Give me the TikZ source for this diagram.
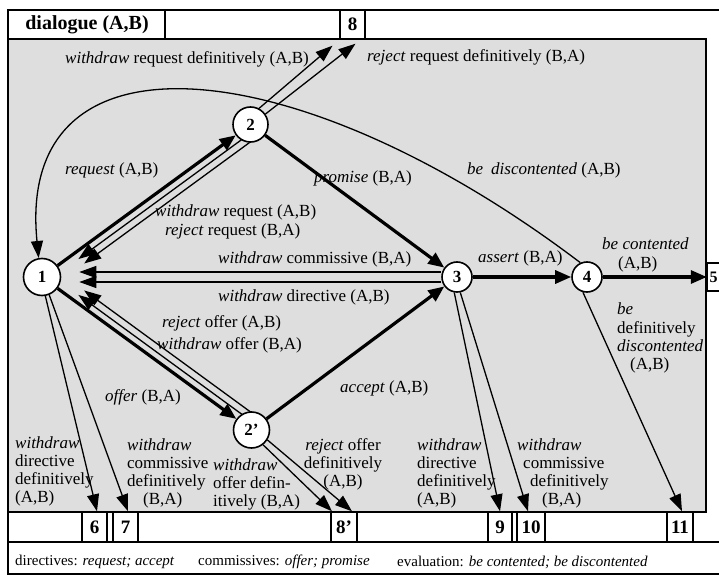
\documentclass[tikz,border=0pt]{standalone}
\usepackage{fontspec}
\setmainfont{Liberation Serif}
\usetikzlibrary{arrows.meta,calc}
\pgfdeclarelayer{back}
\pgfdeclarelayer{edges}
\pgfsetlayers{back,edges,main}
\begin{document}
\begin{tikzpicture}[x=1pt,y=-1pt,
  stnode/.style={circle,draw,line width=1.6pt,fill=white,inner sep=0pt,font=\fontsize{17}{17}\selectfont\bfseries},
  numbox/.style={draw,line width=1.4pt,fill=white,inner sep=0pt,minimum height=30pt,font=\fontsize{19}{19}\selectfont\bfseries},
  heavy/.style={line width=3.2pt,-{Triangle[length=16pt,width=13pt]}},
  light/.style={line width=1.3pt,-{Triangle[length=17pt,width=12pt]}},
  lbl/.style={inner sep=0pt,font=\fontsize{17}{18.3}\selectfont},
  legend/.style={inner sep=0pt,anchor=west,font=\fontsize{15}{15}\selectfont},
  frame/.style={line width=1.8pt}
]
\useasboundingbox (0,0) rectangle (719,577);
\clip (0,0) rectangle (719,577);

% ---------- frame ----------
\begin{pgfonlayer}{back}
\fill[black!13] (8,39) rectangle (706,512);
\draw[line width=1.5pt] (8,39) rectangle (706,512);
\draw[frame] (730,10) -- (8,10) -- (8,574) -- (730,574);
\draw[line width=1.5pt] (8,542) -- (730,542);
\draw[line width=1.5pt] (8,10) rectangle (165,39);
\end{pgfonlayer}
\node[font=\fontsize{20}{20}\selectfont\bfseries,inner sep=0pt] (title) at (87,25) {dialogue (A,B)};

% ---------- boxes ----------
\node[numbox,minimum width=25pt,minimum height=29pt] (b8) at (352.5,24.5) {8};
\node[numbox,minimum width=12pt,minimum height=28pt,font=\fontsize{16}{16}\selectfont\bfseries] (b5) at (713.5,277) {5};
\node[numbox,minimum width=25pt] (b6) at (94.5,527) {6};
\node[numbox,minimum width=25pt] (b7) at (125.5,527) {7};
\node[numbox,minimum width=26pt] (b8p) at (344,527) {8'};
\node[numbox,minimum width=24pt] (b9) at (500,527) {9};
\node[numbox,minimum width=28pt] (b10) at (531,527) {10};
\node[numbox,minimum width=26pt] (b11) at (680,527) {11};

% ---------- states ----------
\node[stnode,minimum size=37pt] (n1) at (42,277) {1};
\node[stnode,minimum size=35pt] (n2) at (250.5,124.5) {2};
\node[stnode,minimum size=36pt] (n2p) at (251.5,430) {2'};
\node[stnode,minimum size=30pt] (n3) at (457,277) {3};
\node[stnode,minimum size=30pt] (n4) at (587,277) {4};

% ---------- edges ----------
\begin{pgfonlayer}{edges}
\draw[heavy] (n1) -- (n2);
\draw[heavy] (n2) -- (n3);
\draw[heavy] (n1) -- (n2p);
\draw[heavy] (n2p) -- (n3);
\draw[heavy] (n3) -- (n4);
\draw[heavy] (n4) -- (b5);

\path ($(n2.center)!7pt!90:(n1.center)$) coordinate (p1)
      ($(n1.center)!7pt!-90:(n2.center)$) coordinate (q1)
      ($(n2.center)!14pt!90:(n1.center)$) coordinate (p2)
      ($(n1.center)!14pt!-90:(n2.center)$) coordinate (q2)
      ($(n2p.center)!7pt!-90:(n1.center)$) coordinate (p3)
      ($(n1.center)!7pt!90:(n2p.center)$) coordinate (q3)
      ($(n2p.center)!14pt!-90:(n1.center)$) coordinate (p4)
      ($(n1.center)!14pt!90:(n2p.center)$) coordinate (q4);
\draw[light] ($(p1)!16pt!(q1)$) -- ($(q1)!40pt!(p1)$);
\draw[light] ($(p2)!11pt!(q2)$) -- ($(q2)!42pt!(p2)$);
\draw[light] ($(p3)!16pt!(q3)$) -- ($(q3)!40pt!(p3)$);
\draw[light] ($(p4)!11pt!(q4)$) -- ($(q4)!42pt!(p4)$);

\draw[light] ([yshift=5pt]n3.west) -- ([yshift=5pt,xshift=18pt]n1.east);
\draw[light] ([yshift=-5pt]n3.west) -- ([yshift=-5pt,xshift=18pt]n1.east);

\draw[light] (n2.62) -- ([xshift=-20pt,yshift=-6pt]b8.south);
\draw[light] (n2.35) -- ([xshift=3pt,yshift=-4pt]b8.south);

\draw[light] (n2p.-52) -- ([xshift=-12pt]b8p.north);
\draw[light] (n2p.-32) -- ([xshift=8pt]b8p.north);

\draw[light] (n1.-80) -- ([xshift=2.5pt]b6.north);
\draw[light] (n1.-68) -- ([xshift=2.5pt]b7.north);

\draw[light] (n3.-100) -- (b9.north);
\draw[light] (n3.-78) -- ([xshift=-3pt]b10.north);
\draw[light] (n4.-105) -- ([xshift=2pt]b11.north);

\draw[light] (n4.115) .. controls (300,50) and (15,20) .. (n1.100);
\end{pgfonlayer}

% ---------- labels ----------
\node[lbl,anchor=west] (l1) at (65,59) {\textit{withdraw} request definitively (A,B)};
\node[lbl,anchor=west] (l2) at (367,57) {\textit{reject} request definitively (B,A)};
\node[lbl,anchor=west] (l3) at (65,170) {\textit{request} (A,B)};
\node[lbl,anchor=west] (l4) at (314,178) {\textit{promise} (B,A)};
\node[lbl,anchor=west] (l5) at (467,170) {\textit{be\hspace{8pt}discontented} (A,B)};
\node[lbl,anchor=west] (l6) at (155,212) {\textit{withdraw} request (A,B)};
\node[lbl,anchor=west] (l7) at (165,231) {\textit{reject} request (B,A)};
\node[lbl,anchor=west] (l8) at (218,259) {\textit{withdraw} commissive (B,A)};
\node[lbl,anchor=west] (l9) at (218,297) {\textit{withdraw} directive (A,B)};
\node[lbl,anchor=west] (l10) at (162,323) {\textit{reject} offer (A,B)};
\node[lbl,anchor=west] (l11) at (157,345) {\textit{withdraw} offer (B,A)};
\node[lbl,anchor=west] (l12) at (478,258) {\textit{assert} (B,A)};
\node[lbl,anchor=north west,align=left] (l13) at (602,238) {\textit{be contented}\\\hspace*{16pt}(A,B)};
\node[lbl,anchor=north west,align=left] (l14) at (617,303) {\textit{be}\\definitively\\\textit{discontented}\\\hspace*{13pt}(A,B)};
\node[lbl,anchor=west] (l15) at (340,388) {\textit{accept} (A,B)};
\node[lbl,anchor=west] (l16) at (105,397) {\textit{offer} (B,A)};
\node[lbl,anchor=north west,align=left] (l17) at (15,436) {\textit{withdraw}\\directive\\definitively\\(A,B)};
\node[lbl,anchor=north west,align=left] (l18) at (127,438) {\textit{withdraw}\\commissive\\definitively\\\hspace*{16pt}(B,A)};
\node[lbl,anchor=north west,align=left] (l19) at (213,458) {\textit{withdraw}\\offer defin-\\itively (B,A)};
\node[lbl,anchor=north,align=center] (l20) at (343,438) {\textit{reject} offer\\definitively\\(A,B)};
\node[lbl,anchor=north west,align=left] (l21) at (417,438) {\textit{withdraw}\\directive\\definitively\\(A,B)};
\node[lbl,anchor=north west,align=left] (l22) at (517,438) {\textit{withdraw}\\\hspace*{6pt}commissive\\\hspace*{13pt}definitively\\\hspace*{25pt}(B,A)};

% ---------- legend ----------
\node[legend] (lg1) at (15,562) {directives: \textit{request; accept}};
\node[legend] (lg2) at (198,562) {commissives: \textit{offer; promise}};
\node[legend] (lg3) at (397,562) {evaluation: \textit{be contented; be discontented}};
\end{tikzpicture}
\end{document}
